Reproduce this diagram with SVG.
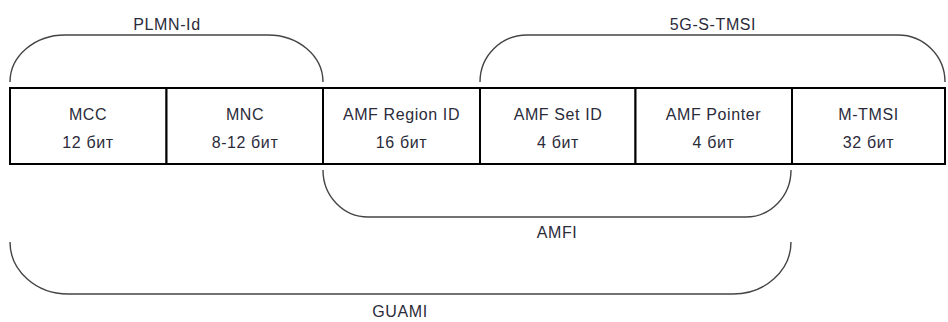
<svg xmlns="http://www.w3.org/2000/svg" width="948" height="322" viewBox="0 0 948 322">
<style>
.box{fill:#fff;stroke:#000;stroke-width:2}
.br{fill:none;stroke:#444;stroke-width:1.4}
text{font-family:"Liberation Sans",Arial,sans-serif;font-size:16px;fill:#2b2b3a;text-anchor:middle;letter-spacing:0.6px}
</style>
<rect width="948" height="322" fill="#fff"/>
<g id="mcc"><rect class="box" x="10" y="88" width="156.5" height="76"/><text x="88" y="120">MCC</text><text x="88" y="148">12 бит</text></g>
<g id="mnc"><rect class="box" x="166.5" y="88" width="156.5" height="76"/><text x="245" y="120">MNC</text><text x="245" y="148">8-12 бит</text></g>
<g id="region"><rect class="box" x="323" y="88" width="157" height="76"/><text x="401.5" y="120">AMF Region ID</text><text x="401.5" y="148">16 бит</text></g>
<g id="set"><rect class="box" x="480" y="88" width="155.5" height="76"/><text x="558" y="120">AMF Set ID</text><text x="558" y="148">4 бит</text></g>
<g id="pointer"><rect class="box" x="635.5" y="88" width="156.5" height="76"/><text x="713.5" y="120">AMF Pointer</text><text x="713.5" y="148">4 бит</text></g>
<g id="mtmsi"><rect class="box" x="792" y="88" width="153" height="76"/><text x="868.5" y="120">M-TMSI</text><text x="868.5" y="148">32 бит</text></g>
<g id="connectors">
<path class="br" d="M10,82 A55,47 0 0 1 65,35 H268 A55,47 0 0 1 323,82"/>
<path class="br" d="M480,82 A47,47 0 0 1 527,35 H898 A47,47 0 0 1 945,82"/>
<path class="br" d="M323,170 A45,47 0 0 0 368,217 H746 A45,47 0 0 0 791,170"/>
<path class="br" d="M10,242 A58,52 0 0 0 68,294 H733 A58,52 0 0 0 791,242"/>
</g>
<g id="labels">
<text x="167" y="30">PLMN-Id</text>
<text x="713" y="30">5G-S-TMSI</text>
<text x="557" y="238">AMFI</text>
<text x="400" y="317">GUAMI</text>
</g>
</svg>
